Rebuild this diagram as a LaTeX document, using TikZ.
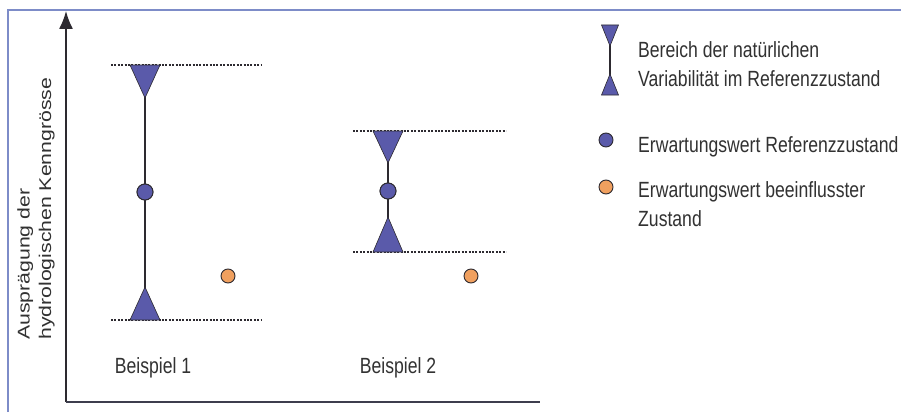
\documentclass[tikz,border=0pt]{standalone}
\usepackage{fontspec}
\setmainfont[FakeStretch=0.8]{Liberation Sans}
\newfontfamily\axisfont[FakeStretch=1.25]{Liberation Sans}
\usetikzlibrary{arrows.meta}
\definecolor{framecol}{RGB}{125,140,200}
\definecolor{bluefill}{RGB}{90,90,170}
\definecolor{orangefill}{RGB}{240,160,95}
\definecolor{inkcol}{RGB}{45,42,48}
\definecolor{textcol}{RGB}{50,50,50}
\begin{document}
\begin{tikzpicture}[x=1pt,y=-1pt,>=Latex,
	dotline/.style={inkcol, line width=2.8pt, dash pattern=on 2pt off 1.4pt},
	stem/.style={inkcol, line width=2.4pt},
	tri/.style={fill=bluefill, draw=inkcol, line width=0.6pt, line join=miter},
	refdot/.style={circle, fill=bluefill, draw=inkcol, line width=0.9pt, minimum size=16pt, inner sep=0pt},
	infdot/.style={circle, fill=orangefill, draw=inkcol, line width=0.9pt, minimum size=14pt, inner sep=0pt},
	lbl/.style={text=textcol, font=\fontsize{22}{29}\selectfont, inner sep=0pt}]
	\useasboundingbox (0,0) rectangle (901,412);
	\fill[white] (0,0) rectangle (901,412);
	% frame and axes
	\draw[framecol, line width=1.2pt] (8,412) -- (8,10) -- (901,10);
	\coordinate (o) at (66,402);
	\coordinate (ytop) at (66,11);
	\coordinate (xend) at (540,402);
	\draw[inkcol, line width=1.6pt, -{Latex[length=18pt,width=14pt]}] (o) -- (ytop);
	\draw[inkcol!80!framecol, line width=1.4pt] (o) -- (xend);
	\node[lbl, font=\axisfont\fontsize{17}{21.5}\selectfont, rotate=90, align=left, anchor=base west]
	(ylab) at (51,340) {Ausprägung der\\hydrologischen Kenngrösse};
	% Beispiel 1
	\coordinate (t1) at (145,65);
	\coordinate (b1) at (145,320);
	\draw[dotline] ([xshift=-34pt]t1) -- ([xshift=116pt]t1);
	\draw[dotline] ([xshift=-34pt]b1) -- ([xshift=116pt]b1);
	\node[refdot] (m1) at (145,192) {};
	\draw[stem] (t1) -- (m1) -- (b1);
	\filldraw[tri] ([xshift=-15pt]t1) -- ([xshift=15pt]t1) -- ([yshift=-33pt]t1) -- cycle;
	\filldraw[tri] ([xshift=-15pt]b1) -- ([xshift=15pt]b1) -- ([yshift=33pt]b1) -- cycle;
	\node[refdot] at (m1) {};
	\node[infdot] (e1) at (228,276) {};
	\node[lbl] (n1) at (153,368) {Beispiel 1};
	% Beispiel 2
	\coordinate (t2) at (388,131);
	\coordinate (b2) at (388,252);
	\draw[dotline] ([xshift=-35pt]t2) -- ([xshift=118pt]t2);
	\draw[dotline] ([xshift=-35pt]b2) -- ([xshift=118pt]b2);
	\node[refdot] (m2) at (388,191) {};
	\draw[stem] (t2) -- (m2) -- (b2);
	\filldraw[tri] ([xshift=-15pt]t2) -- ([xshift=15pt]t2) -- ([yshift=-32pt]t2) -- cycle;
	\filldraw[tri] ([xshift=-15pt]b2) -- ([xshift=15pt]b2) -- ([yshift=35pt]b2) -- cycle;
	\node[refdot] at (m2) {};
	\node[infdot] (e2) at (471,276) {};
	\node[lbl] (n2) at (398,368) {Beispiel 2};
	% legend
	\coordinate (lt) at (610,25);
	\coordinate (lb) at (610,95);
	\draw[stem, line width=1.8pt] (lt) -- (lb);
	\filldraw[tri] ([xshift=-8.5pt]lt) -- ([xshift=8.5pt]lt) -- ([yshift=-21pt]lt) -- cycle;
	\filldraw[tri] ([xshift=-8.5pt]lb) -- ([xshift=8.5pt]lb) -- ([yshift=21pt]lb) -- cycle;
	\node[lbl, anchor=base west, align=left] (l1) at (638,86)
	{Bereich der natürlichen\\Variabilität im Referenzzustand};
	\node[refdot, minimum size=14pt] (l2dot) at (606,140) {};
	\node[lbl, anchor=base west] (l2) at (638,152) {Erwartungswert Referenzzustand};
	\node[infdot, minimum size=14pt] (l3dot) at (606,187) {};
	\node[lbl, anchor=base west, align=left] (l3) at (638,226)
	{Erwartungswert beeinflusster\\Zustand};
\end{tikzpicture}
\end{document}
